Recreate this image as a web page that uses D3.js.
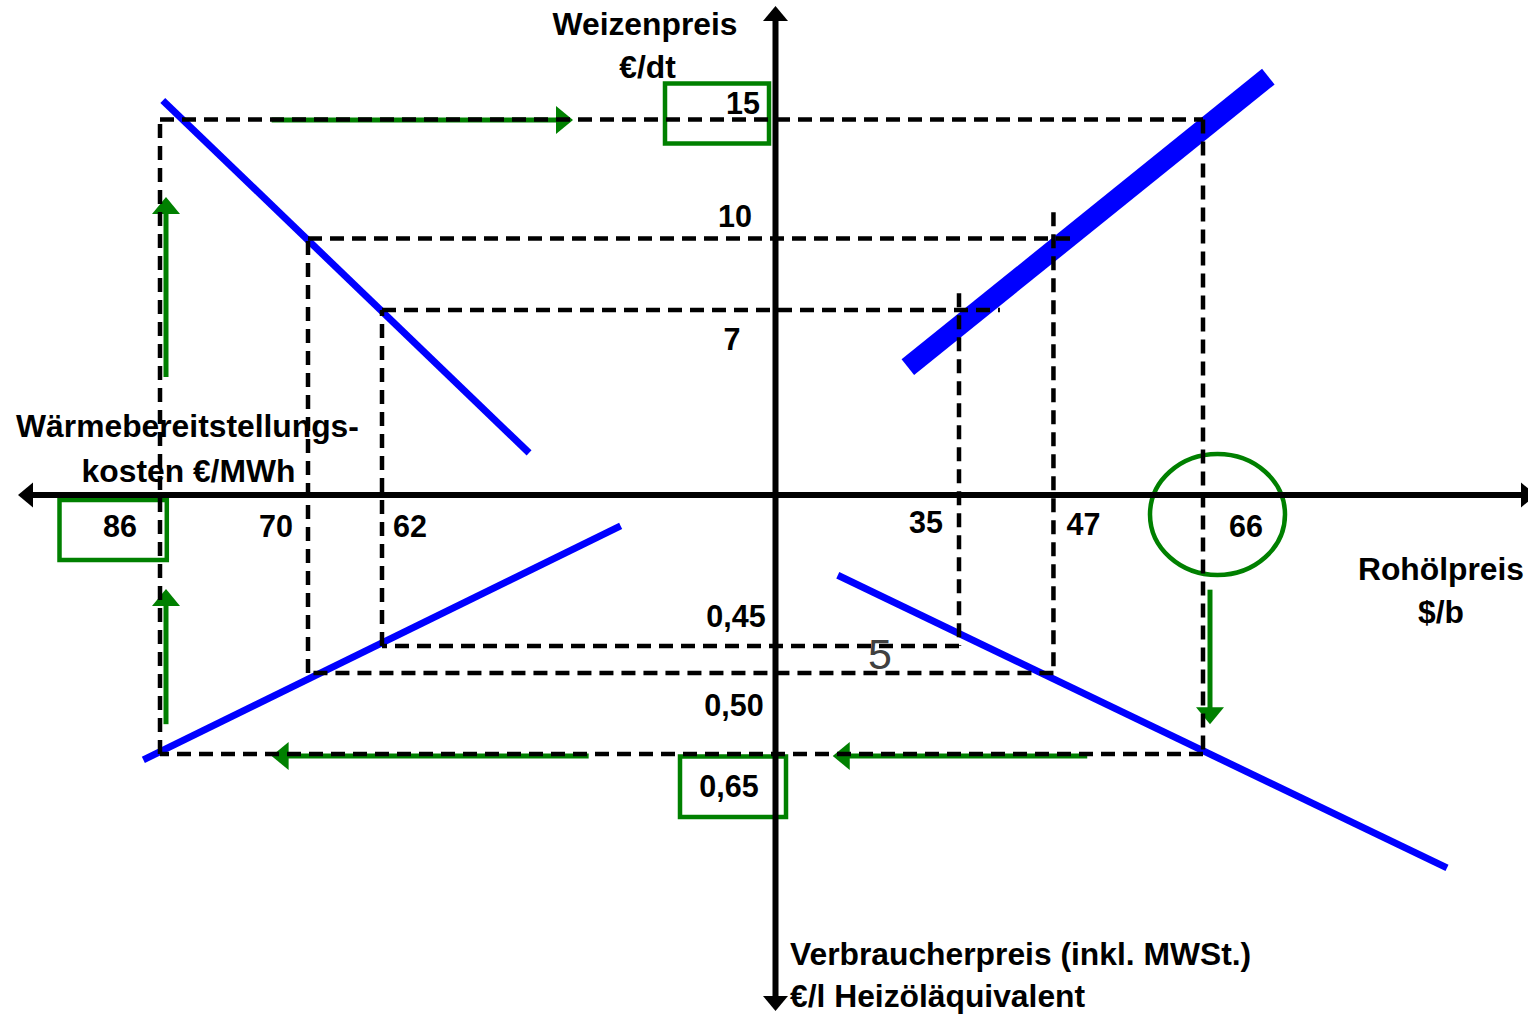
<!DOCTYPE html>
<html><head><meta charset="utf-8">
<script src="https://cdn.jsdelivr.net/npm/d3@7"></script>
<style>html,body{margin:0;padding:0;background:#fff;overflow:hidden}</style>
</head><body>
<svg id="chart" width="1528" height="1015"></svg>
<script>
// ---------- DATA ----------
const wheatTicks = [15, 10, 7];          // Weizenpreis €/dt
const heatTicks = [86, 70, 62];          // Wärmebereitstellungskosten €/MWh
const crudeTicks = [35, 47, 66];         // Rohölpreis $/b
const consumerTicks = [0.45, 0.50, 0.65];// Verbraucherpreis €/l

// scenario chains (wheat -> crude -> consumer -> heat)
const scenarioWheat = [15, 10, 7];
const scenarioCrude = [66, 47, 35];
const scenarioConsumer = [0.65, 0.50, 0.45];
const scenarioHeat = [86, 70, 62];
// guide overshoot in the upper right quadrant
const guideCrudeEnd = [66, 50.1, 40.2];
const guideWheatStart = [15, 11.1, 7.7];

// relationship lines (endpoints in axis units)
const lineWheatHeat = [{heat: 85.7, wheat: 15.8}, {heat: 46.1, wheat: 1.0}];
const lineWheatCrude = [{crude: 28.5, wheat: 4.6}, {crude: 74.3, wheat: 16.8}];
const lineConsumerCrude = [{crude: 19.6, consumer: 0.319}, {crude: 97.0, consumer: 0.861}];
const lineConsumerHeat = [{heat: 87.8, consumer: 0.661}, {heat: 36.2, consumer: 0.2275}];

// green flow arrows along the highlighted chain (side, fraction start, fraction end)
const flowSides = ["top", "right", "bottom", "bottom", "left", "left"];
const flowFrom = [0.107, 0.741, 0.111, 0.589, 0.047, 0.594];
const flowTo = [0.396, 0.953, 0.355, 0.893, 0.260, 0.878];

// ---------- LAYOUT ----------
const W = 1528, H = 1015;
const X0 = 775.5, Y0 = 495;
const BLUE = "#0000ff", GREEN = "#008000";
const FONT = "'Liberation Sans', Arial, Helvetica, sans-serif";

const heatX = d3.scaleLinear().domain([86, 62]).range([160, 382]);
const crudeX = d3.scaleLinear().domain([35, 66]).range([959, 1203]);
const wheatY = d3.scaleLinear().domain([15, 7]).range([119.5, 310]);
const consumerY = d3.scaleLinear().domain([0.45, 0.65]).range([646, 754]);

const svg = d3.select("#chart");
svg.append("rect").attr("width", W).attr("height", H).attr("fill", "#fff");

function arrow(g, x1, y1, x2, y2, color, sw, L, hw) {
  const dx = x2 - x1, dy = y2 - y1, len = Math.hypot(dx, dy);
  const ux = dx / len, uy = dy / len, nx = -uy, ny = ux;
  const bx = x2 - ux * L, by = y2 - uy * L;
  g.append("line").attr("x1", x1).attr("y1", y1)
    .attr("x2", bx + ux * 1).attr("y2", by + uy * 1)
    .attr("stroke", color).attr("stroke-width", sw);
  g.append("polygon")
    .attr("points", [[x2, y2], [bx + nx * hw, by + ny * hw], [bx - nx * hw, by - ny * hw]].map(p => p.join(",")).join(" "))
    .attr("fill", color);
}

// ---------- blue relationship lines ----------
const gBlue = svg.append("g");
const seg = (pts, fx, fy) => pts.map(p => [fx(p), fy(p)]);
const lineGen = d3.line();
gBlue.append("path").attr("d", lineGen(seg(lineWheatHeat, p => heatX(p.heat), p => wheatY(p.wheat))))
  .attr("stroke", BLUE).attr("stroke-width", 7).attr("fill", "none");
gBlue.append("path").attr("d", lineGen(seg(lineWheatCrude, p => crudeX(p.crude), p => wheatY(p.wheat))))
  .attr("stroke", BLUE).attr("stroke-width", 20).attr("fill", "none");
gBlue.append("path").attr("d", lineGen(seg(lineConsumerCrude, p => crudeX(p.crude), p => consumerY(p.consumer))))
  .attr("stroke", BLUE).attr("stroke-width", 7).attr("fill", "none");
gBlue.append("path").attr("d", lineGen(seg(lineConsumerHeat, p => heatX(p.heat), p => consumerY(p.consumer))))
  .attr("stroke", BLUE).attr("stroke-width", 7).attr("fill", "none");

// ---------- green highlights ----------
const gGreen = svg.append("g");
const TL = [heatX(scenarioHeat[0]), wheatY(scenarioWheat[0])];
const TR = [crudeX(scenarioCrude[0]), wheatY(scenarioWheat[0])];
const BR = [crudeX(scenarioCrude[0]), consumerY(scenarioConsumer[0])];
const BL = [heatX(scenarioHeat[0]), consumerY(scenarioConsumer[0])];
const sides = {
  top: {a: TL, b: TR, off: [0, 0.5]},
  right: {a: TR, b: BR, off: [7, 0]},
  bottom: {a: BR, b: BL, off: [0, 2]},
  left: {a: BL, b: TL, off: [6, 0]}
};
flowSides.forEach((s, i) => {
  const S = sides[s];
  const p = t => [S.a[0] + (S.b[0] - S.a[0]) * t + S.off[0], S.a[1] + (S.b[1] - S.a[1]) * t + S.off[1]];
  const p1 = p(flowFrom[i]), p2 = p(flowTo[i]);
  arrow(gGreen, p1[0], p1[1], p2[0], p2[1], GREEN, 5, 17, 14);
});
// boxes around highlighted values
gGreen.append("rect").attr("x", X0 - 110.5).attr("y", wheatY(15) - 36).attr("width", 104).attr("height", 60)
  .attr("fill", "none").attr("stroke", GREEN).attr("stroke-width", 4.5);
gGreen.append("rect").attr("x", heatX(86) - 100.5).attr("y", Y0 + 5).attr("width", 107.3).attr("height", 60)
  .attr("fill", "none").attr("stroke", GREEN).attr("stroke-width", 4.5);
gGreen.append("rect").attr("x", X0 - 95.5).attr("y", consumerY(0.65) + 2.5).attr("width", 106).attr("height", 60.5)
  .attr("fill", "none").attr("stroke", GREEN).attr("stroke-width", 4.5);
gGreen.append("ellipse").attr("cx", crudeX(66) + 14.5).attr("cy", Y0 + 19.5).attr("rx", 67.5).attr("ry", 60.5)
  .attr("fill", "none").attr("stroke", GREEN).attr("stroke-width", 4.5);

// ---------- dashed guide lines ----------
const gDash = svg.append("g").attr("stroke", "#000").attr("stroke-width", 4.5)
  .attr("stroke-dasharray", "14,8").attr("fill", "none");
scenarioWheat.forEach((w, i) => {
  const yW = wheatY(w), xC = crudeX(scenarioCrude[i]), yP = consumerY(scenarioConsumer[i]), xH = heatX(scenarioHeat[i]);
  gDash.append("line").attr("x1", xH).attr("y1", yW).attr("x2", crudeX(guideCrudeEnd[i])).attr("y2", yW);
  gDash.append("line").attr("x1", xC).attr("y1", wheatY(guideWheatStart[i])).attr("x2", xC).attr("y2", yP);
  gDash.append("line").attr("x1", xC).attr("y1", yP).attr("x2", xH).attr("y2", yP);
  gDash.append("line").attr("x1", xH).attr("y1", yP).attr("x2", xH).attr("y2", yW);
});

// ---------- axes ----------
const gAx = svg.append("g");
arrow(gAx, X0, Y0, 18, Y0, "#000", 6, 15, 12.5);
arrow(gAx, X0, Y0, 1536, Y0, "#000", 6, 15, 12.5);
arrow(gAx, X0, Y0, X0, 6, "#000", 6, 15, 12.5);
arrow(gAx, X0, Y0, X0, 1011, "#000", 6, 15, 12.5);

// ---------- tick labels ----------
const deFmt = d3.formatLocale({decimal: ",", thousands: ".", grouping: [3], currency: ["", "€"]}).format(".2f");
const gT = svg.append("g").attr("font-family", FONT).attr("font-weight", "bold")
  .attr("font-size", 30.5).attr("fill", "#000").attr("text-anchor", "middle");
const wheatLab = {dx: [-32.5, -40.5, -43.5], dy: [-6, -11.5, 40]};
wheatTicks.forEach((v, i) => gT.append("text").attr("x", X0 + wheatLab.dx[i]).attr("y", wheatY(v) + wheatLab.dy[i]).text(v));
const heatLab = {dx: [-40, -32, 28], dy: [42, 42, 42]};
heatTicks.forEach((v, i) => gT.append("text").attr("x", heatX(v) + heatLab.dx[i]).attr("y", Y0 + heatLab.dy[i]).text(v));
const crudeLab = {dx: [-33, 30, 43], dy: [38, 40, 42]};
crudeTicks.forEach((v, i) => gT.append("text").attr("x", crudeX(v) + crudeLab.dx[i]).attr("y", Y0 + crudeLab.dy[i]).text(v));
const consLab = {dx: [-39.5, -41.5, -46.5], dy: [-19, 43, 43]};
consumerTicks.forEach((v, i) => gT.append("text").attr("x", X0 + consLab.dx[i]).attr("y", consumerY(v) + consLab.dy[i]).text(deFmt(v)));

// ---------- axis titles ----------
const gL = svg.append("g").attr("font-family", FONT).attr("font-weight", "bold")
  .attr("font-size", 31.8).attr("fill", "#000");
const titles = [
  {t: "Weizenpreis", x: 645, y: 35, a: "middle"},
  {t: "€/dt", x: 647.5, y: 77.5, a: "middle"},
  {t: "Wärmebereitstellungs-", x: 187.5, y: 437, a: "middle"},
  {t: "kosten €/MWh", x: 188.5, y: 482, a: "middle"},
  {t: "Rohölpreis", x: 1441, y: 580, a: "middle"},
  {t: "$/b", x: 1441, y: 623, a: "middle"},
  {t: "Verbraucherpreis (inkl. MWSt.)", x: 790, y: 965, a: "start"},
  {t: "€/l Heizöläquivalent", x: 790, y: 1007, a: "start"}
];
titles.forEach(d => gL.append("text").attr("x", d.x).attr("y", d.y).attr("text-anchor", d.a).text(d.t));

// stray page number
svg.append("text").attr("x", 880).attr("y", 669).attr("text-anchor", "middle")
  .attr("font-family", FONT).attr("font-size", 43).attr("fill", "#404040").text("5");
</script>
</body></html>
